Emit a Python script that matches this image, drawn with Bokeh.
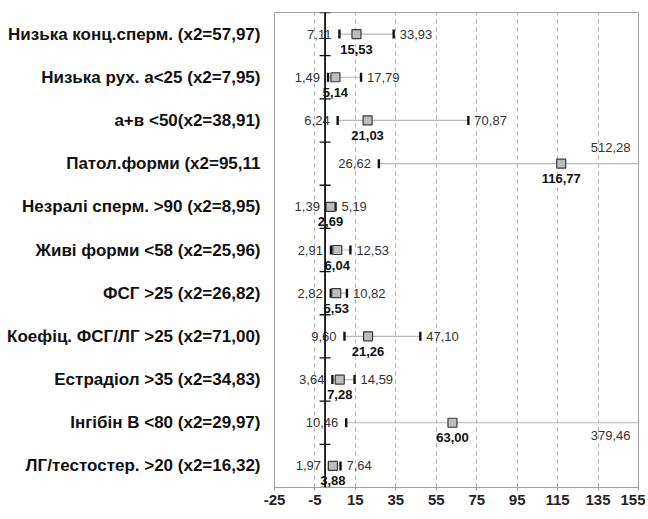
import math
from bokeh.plotting import figure
from bokeh.models import FactorRange, Range1d, FixedTicker, Span
from bokeh.core.properties import value
from bokeh.embed import file_html
from bokeh.resources import INLINE

categories = [
    "Низька конц.сперм. (x2=57,97)",
    "Низька рух. а<25 (x2=7,95)",
    "а+в <50(x2=38,91)",
    "Патол.форми (x2=95,11",
    "Незралі сперм. >90 (x2=8,95)",
    "Живі форми <58 (x2=25,96)",
    "ФСГ >25 (x2=26,82)",
    "Коефіц. ФСГ/ЛГ >25 (x2=71,00)",
    "Естрадіол >35 (x2=34,83)",
    "Інгібін В <80 (x2=29,97)",
    "ЛГ/тестостер. >20 (x2=16,32)",
]
estimate = [15.53, 5.14, 21.03, 116.77, 2.69, 6.04, 5.53, 21.26, 7.28, 63.00, 3.88]
lower = [7.11, 1.49, 6.24, 26.62, 1.39, 2.91, 2.82, 9.60, 3.64, 10.46, 1.97]
upper = [33.93, 17.79, 70.87, 512.28, 5.19, 12.53, 10.82, 47.10, 14.59, 379.46, 7.64]
x_ticks = [-25, -5, 15, 35, 55, 75, 95, 115, 135, 155]

XMIN, XMAX = x_ticks[0], x_ticks[-1]

def fmt(v):
    return f"{v:.2f}".replace(".", ",")

FONT = "Liberation Sans"

p = figure(width=645, height=515, output_backend="svg", toolbar_location=None,
           x_range=Range1d(XMIN, XMAX),
           y_range=FactorRange(*reversed(categories)),
           min_border_left=274, min_border_right=7, min_border_top=12, min_border_bottom=28)
p.background_fill_color = "white"
p.border_fill_color = "white"
p.outline_line_color = "#a0a0a0"
p.outline_line_width = 1

# grid
p.ygrid.grid_line_color = None
p.xgrid.ticker = FixedTicker(ticks=x_ticks)
p.xgrid.grid_line_color = "#b0b0b0"
p.xgrid.grid_line_dash = "4 4"
p.xgrid.grid_line_width = 1

# x axis
p.xaxis.ticker = FixedTicker(ticks=x_ticks)
p.xaxis.major_label_overrides = {t: str(t) for t in x_ticks}
p.xaxis.axis_line_color = "#a0a0a0"
p.xaxis.major_tick_line_color = "#a0a0a0"
p.xaxis.major_tick_in = 3
p.xaxis.major_tick_out = 3
p.xaxis.minor_tick_line_color = None
p.xaxis.major_label_standoff = 4
p.xaxis.major_label_text_font = FONT
p.xaxis.major_label_text_font_style = "bold"
p.xaxis.major_label_text_font_size = "15px"
p.xaxis.major_label_text_color = "#222222"

# y axis (categories)
p.yaxis.axis_line_color = None
p.yaxis.major_tick_line_color = None
p.yaxis.major_tick_in = 0
p.yaxis.major_tick_out = 0
p.yaxis.major_label_standoff = 14
p.yaxis.major_label_text_font = FONT
p.yaxis.major_label_text_font_style = "bold"
p.yaxis.major_label_text_font_size = "17px"
p.yaxis.major_label_text_color = "#111111"

# vertical axis at zero
p.add_layout(Span(location=0, dimension="height", line_color="#111111", line_width=1.8))
boundaries = list(range(len(categories) + 1))
p.scatter(x=[0] * len(boundaries), y=boundaries, marker="dash", size=11,
          line_color="#111111", line_width=1.3)

# CI lines
n = len(categories)
ci_right = [min(u, XMAX + 5) for u in upper]
p.segment(x0=lower, y0=categories, x1=ci_right, y1=categories,
          line_color="#b8b8b8", line_width=1.2)

# CI end ticks
p.scatter(x=lower, y=categories, marker="dash", angle=math.pi / 2, size=9,
          line_color="#111111", line_width=2.4)
in_up = [i for i in range(n) if upper[i] <= XMAX]
p.scatter(x=[upper[i] for i in in_up], y=[categories[i] for i in in_up],
          marker="dash", angle=math.pi / 2, size=9, line_color="#111111", line_width=2.4)

# point estimates
p.scatter(x=estimate, y=categories, marker="square", size=9,
          fill_color="#bdbdbd", line_color="#3a3a3a", line_width=1.2)

num_font = value(FONT)
# lower labels
p.text(x=lower, y=categories, text=[fmt(v) for v in lower], text_align="right",
       text_baseline="middle", x_offset=-8, text_font=num_font,
       text_font_size="13px", text_color="#333333")
# upper labels in range
p.text(x=[upper[i] for i in in_up], y=[categories[i] for i in in_up],
       text=[fmt(upper[i]) for i in in_up], text_align="left", text_baseline="middle",
       x_offset=6, text_font=num_font, text_font_size="13px", text_color="#333333")
# upper labels out of range
out_up = [i for i in range(n) if upper[i] > XMAX]
out_offsets = [-16 if k % 2 == 0 else 13 for k in range(len(out_up))]
p.text(x=[XMAX] * len(out_up), y=[categories[i] for i in out_up],
       text=[fmt(upper[i]) for i in out_up], text_align="right", text_baseline="middle",
       x_offset=-8, y_offset=out_offsets, text_font=num_font, text_font_size="13px",
       text_color="#333333")
# estimate labels
p.text(x=estimate, y=categories, text=[fmt(v) for v in estimate], text_align="center",
       text_baseline="middle", y_offset=15, text_font=num_font, text_font_style="bold",
       text_font_size="13px", text_color="#111111")

open("out.html", "w").write(file_html(p, INLINE))
